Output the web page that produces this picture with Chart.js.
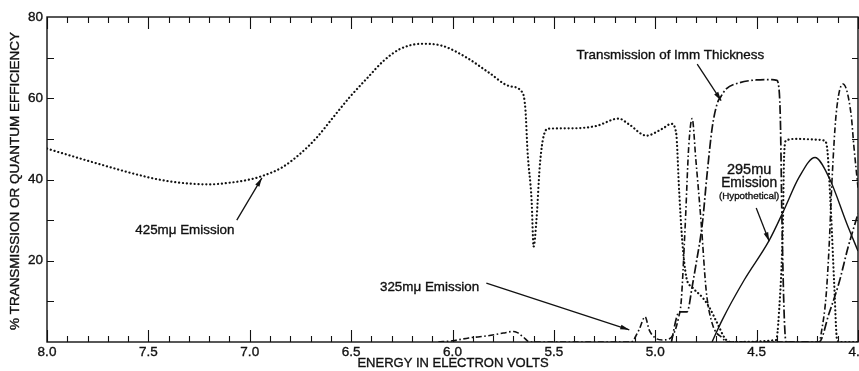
<!DOCTYPE html>
<html>
<head>
<meta charset="utf-8">
<script src="https://cdn.jsdelivr.net/npm/chart.js@4.4.1/dist/chart.umd.min.js"></script>
<style>
  html, body { margin: 0; padding: 0; background: #fff; overflow: hidden; }
  #wrap { width: 859px; height: 371px; }
</style>
</head>
<body>
<div id="wrap"><canvas id="spectra"></canvas></div>
<script>
// 425 mμ emission (dotted)
const em425Energy = [8.0, 7.9, 7.75, 7.6, 7.45, 7.3, 7.2, 7.1, 7.0, 6.93, 6.84, 6.75, 6.67, 6.59, 6.51, 6.42, 6.34, 6.26, 6.15, 6.05, 5.93, 5.82, 5.72, 5.655, 5.64, 5.63, 5.61, 5.60, 5.585, 5.57, 5.555, 5.53, 5.41, 5.29, 5.18, 5.13, 5.044, 4.965, 4.921, 4.897, 4.882, 4.867, 4.847, 4.818, 4.768, 4.734, 4.695, 4.65, 4.62, 4.404, 4.39, 4.37, 4.365, 4.355, 4.30, 4.20, 4.167, 4.153, 4.133, 4.118, 4.103, 4.09, 4.0];
const em425Pct = [47.6, 46.1, 43.9, 41.8, 40.0, 39.0, 38.8, 39.2, 40.0, 41.0, 43.0, 46.4, 50.3, 55.2, 60.1, 65.0, 69.2, 72.1, 73.4, 72.9, 70.0, 66.3, 63.0, 61.4, 57, 47, 35, 23.5, 30.7, 43, 49.6, 52.5, 52.6, 53.2, 55, 53.6, 50.8, 52.5, 53.7, 51.5, 37, 25, 16, 13.5, 11, 8.6, 4.7, 0.5, 0, 0.5, 7, 30, 45, 49.6, 50, 49.8, 49.6, 48, 31.6, 15, 0.5, 0, 0];

// 325 mμ emission (dash-dot)
const em325Energy = [6.07, 6.0, 5.92, 5.83, 5.75, 5.70, 5.68, 5.65, 5.62, 5.12, 5.08, 5.05, 5.03, 5.0, 4.965, 4.93, 4.905, 4.885, 4.872, 4.852, 4.835, 4.818, 4.80, 4.773, 4.749, 4.72, 4.67, 4.64, 4.19, 4.182, 4.158, 4.143, 4.128, 4.108, 4.074, 4.034, 4.02, 4.0];
const em325Pct = [0, 0.3, 1, 1.5, 2.2, 2.6, 2.3, 1.2, 0, 0, 3, 6.2, 3, 1, 0.5, 0.8, 2.5, 6, 10, 29, 48, 55, 45, 29, 12.8, 4.7, 1, 0, 0, 2, 11, 23, 40, 56, 63.5, 56, 48, 38];

// transmission of the 1 mm sample (long dash-dot)
const transEnergy = [4.92, 4.895, 4.882, 4.845, 4.837, 4.82, 4.798, 4.768, 4.744, 4.719, 4.695, 4.675, 4.65, 4.586, 4.502, 4.424, 4.40, 4.394, 4.383, 4.375, 4.365, 4.355, 4.192, 4.143, 4.094, 4.049, 4.0];
const transPct = [0, 6, 7.4, 7.4, 8, 13, 19.4, 29, 41.5, 52.8, 58.6, 60.5, 62.3, 63.8, 64.5, 64.6, 64.4, 63.8, 55, 30, 8, 0, 0, 7, 14.5, 23.3, 31.6];

// 295 mu emission, hypothetical (solid)
const em295Energy = [4.72, 4.67, 4.562, 4.438, 4.365, 4.291, 4.212, 4.143, 4.054, 4.0];
const em295Pct = [0, 5.4, 15.2, 25, 32.5, 40.5, 45.4, 40.5, 29, 22.4];

const xTickValues = [8.0, 7.5, 7.0, 6.5, 6.0, 5.5, 5.0, 4.5, 4.0];
const xTickLabels = ['8.0', '7.5', '7.0', '6.5', '6.0', '5.5', '5.0', '4.5', '4.0'];
const yTickValues = [20, 40, 60, 80];
const yTickLabels = ['20', '40', '60', '80'];

const xTitle = 'ENERGY IN ELECTRON VOLTS';
const yTitle = '% TRANSMISSION OR QUANTUM EFFICIENCY';

// labels placed in data units (energy, percent)
const notes = [
  { text: '425mμ Emission', x: 7.32, y: 27.4, size: 13.4 },
  { text: '325mμ Emission', x: 6.113, y: 13.5, size: 13.4 },
  { text: 'Transmission of Imm Thickness', x: 4.926, y: 70.6, size: 13.4 },
  { text: '295mu', x: 4.537, y: 42.3, size: 14.5 },
  { text: 'Emission', x: 4.537, y: 39.0, size: 13.8 },
  { text: '(Hypothetical)', x: 4.537, y: 35.9, size: 9.8 }
];
const arrows = [
  { from: [7.064, 30.0], to: [6.94, 40.4] },
  { from: [5.833, 14.5], to: [5.128, 3.0] },
  { from: [4.793, 68.4], to: [4.675, 59.4] },
  { from: [4.502, 33.0], to: [4.438, 24.8] }
];

const INK = '#111';
const FONT = '"Liberation Sans", Arial, sans-serif';

function pts(xs, ys) {
  return xs.map((x, i) => ({ x: x, y: ys[i] }));
}

function arrowHead(ctx, x0, y0, x1, y1) {
  const a = Math.atan2(y1 - y0, x1 - x0);
  const len = 9, half = 2.4;
  ctx.beginPath();
  ctx.moveTo(x1, y1);
  ctx.lineTo(x1 - len * Math.cos(a) + half * Math.sin(a), y1 - len * Math.sin(a) - half * Math.cos(a));
  ctx.lineTo(x1 - len * Math.cos(a) - half * Math.sin(a), y1 - len * Math.sin(a) + half * Math.cos(a));
  ctx.closePath();
  ctx.fill();
}

// text with a hairline outline so the lettering reads a little heavier
function ink(ctx, text, x, y) {
  ctx.fillText(text, x, y);
  ctx.strokeText(text, x, y);
}

// frame, inward ticks, tick labels, titles and callouts
const frame = {
  id: 'frame',
  afterDatasetsDraw(chart) {
    const ctx = chart.ctx;
    const xs = chart.scales.x, ys = chart.scales.y;
    const { left, right, top, bottom } = chart.chartArea;
    ctx.save();
    ctx.strokeStyle = INK;
    ctx.fillStyle = INK;
    ctx.lineWidth = 1.4;
    ctx.strokeRect(left, top, right - left, bottom - top);

    ctx.lineWidth = 1.1;
    ctx.beginPath();
    for (let i = 40; i <= 80; i++) {
      const px = Math.round(xs.getPixelForValue(i / 10)) + 0.5;
      const len = i % 5 === 0 ? 12 : 6;
      ctx.moveTo(px, bottom); ctx.lineTo(px, bottom - len);
      ctx.moveTo(px, top); ctx.lineTo(px, top + len);
    }
    for (let v = 10; v < 80; v += 10) {
      const py = Math.round(ys.getPixelForValue(v)) + 0.5;
      ctx.moveTo(left, py); ctx.lineTo(left + 7, py);
      ctx.moveTo(right, py); ctx.lineTo(right - 6, py);
    }
    ctx.stroke();

    ctx.lineWidth = 0.35;
    ctx.font = '13.5px ' + FONT;
    ctx.textAlign = 'center';
    ctx.textBaseline = 'middle';
    xTickValues.forEach((v, i) => {
      ink(ctx, xTickLabels[i], xs.getPixelForValue(v), bottom + 10);
    });
    ctx.textAlign = 'right';
    yTickValues.forEach((v, i) => {
      ink(ctx, yTickLabels[i], left - 4, ys.getPixelForValue(v));
    });

    // axis titles
    ctx.textAlign = 'center';
    ctx.font = '13px ' + FONT;
    ink(ctx, xTitle, 453, 363);

    ctx.save();
    ctx.translate(15, 181);
    ctx.rotate(-Math.PI / 2);
    ctx.font = '13.5px ' + FONT;
    const w0 = ctx.measureText(yTitle).width;
    if ('letterSpacing' in ctx) ctx.letterSpacing = ((298 - w0) / yTitle.length).toFixed(2) + 'px';
    ink(ctx, yTitle, 0, 0);
    ctx.restore();

    notes.forEach(n => {
      ctx.font = n.size + 'px ' + FONT;
      ink(ctx, n.text, xs.getPixelForValue(n.x), ys.getPixelForValue(n.y));
    });

    ctx.lineWidth = 1.3;
    arrows.forEach(a => {
      const x0 = xs.getPixelForValue(a.from[0]), y0 = ys.getPixelForValue(a.from[1]);
      const x1 = xs.getPixelForValue(a.to[0]), y1 = ys.getPixelForValue(a.to[1]);
      ctx.beginPath();
      ctx.moveTo(x0, y0); ctx.lineTo(x1, y1);
      ctx.stroke();
      arrowHead(ctx, x0, y0, x1, y1);
    });
    ctx.restore();
  }
};

const common = {
  fill: false,
  pointRadius: 0,
  borderColor: INK,
  cubicInterpolationMode: 'monotone'
};

new Chart(document.getElementById('spectra'), {
  type: 'line',
  data: {
    datasets: [
      Object.assign({ label: '425mμ Emission', data: pts(em425Energy, em425Pct),
        borderWidth: 2.2, borderDash: [0.1, 3.8], borderCapStyle: 'round' }, common),
      Object.assign({ label: '325mμ Emission', data: pts(em325Energy, em325Pct),
        borderWidth: 1.6, borderDash: [6, 2.5, 1.6, 2.5] }, common),
      Object.assign({ label: 'Transmission of Imm Thickness', data: pts(transEnergy, transPct),
        borderWidth: 1.7, borderDash: [9, 2.5, 1.7, 2.5] }, common),
      Object.assign({ label: '295mu Emission (Hypothetical)', data: pts(em295Energy, em295Pct),
        borderWidth: 1.4 }, common)
    ]
  },
  options: {
    responsive: true,
    maintainAspectRatio: false,
    animation: false,
    layout: { padding: { left: 47, right: 1, top: 17, bottom: 29 } },
    scales: {
      x: { type: 'linear', reverse: true, min: 4.0, max: 8.0, display: false },
      y: { type: 'linear', min: 0, max: 80, display: false }
    },
    plugins: {
      legend: { display: false },
      tooltip: { enabled: false }
    }
  },
  plugins: [frame]
});
</script>
</body>
</html>
